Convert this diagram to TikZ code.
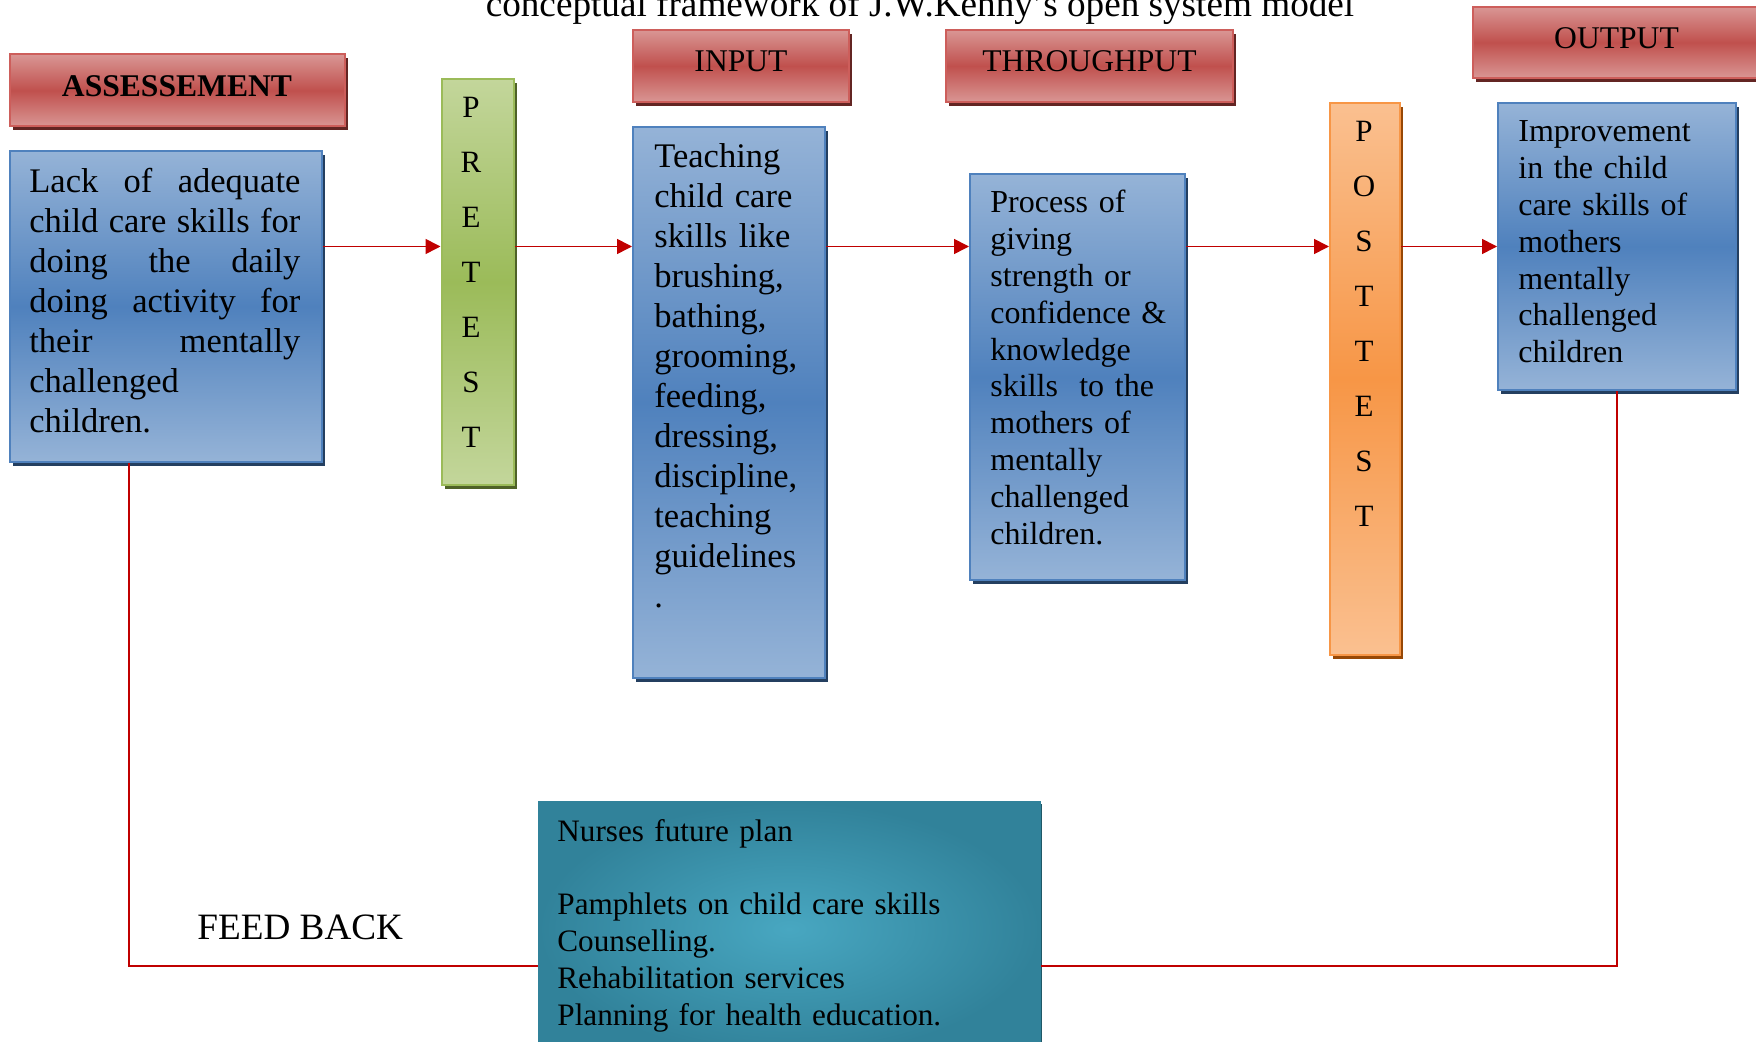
\documentclass[tikz,border=0pt]{standalone}
\usepackage{fontspec}
\setmainfont{Liberation Serif}
\usetikzlibrary{shadows,arrows.meta}
\definecolor{blueL}{HTML}{95B3D7}
\definecolor{blueM}{HTML}{4F81BD}
\definecolor{blueS}{HTML}{243F60}
\definecolor{blueB}{HTML}{4F81BD}
\definecolor{redL}{HTML}{D99694}
\definecolor{redM}{HTML}{C0504D}
\definecolor{redS}{HTML}{632523}
\definecolor{redB}{HTML}{CD5E5B}
\definecolor{grnL}{HTML}{C3D69B}
\definecolor{grnM}{HTML}{9BBB59}
\definecolor{grnS}{HTML}{4F6228}
\definecolor{orgL}{HTML}{FAC090}
\definecolor{orgM}{HTML}{F79646}
\definecolor{orgS}{HTML}{974806}
\definecolor{tealI}{HTML}{48A7C1}
\definecolor{tealO}{HTML}{31829A}
\definecolor{tealS}{HTML}{205867}
\definecolor{arrred}{HTML}{C00000}
\newcommand\fntBig{\fontsize{17.25}{20}\selectfont}
\newcommand\fntSmall{\fontsize{16}{18.4}\selectfont}
\newcommand\fntTeal{\fontsize{15.6}{18.4}\selectfont}
\newcommand\fntHdr{\fontsize{15.8}{19}\selectfont}
\newcommand\fntTitle{\fontsize{18.6}{22}\selectfont}
\newcommand\fntLet{\fontsize{15.5}{27.5}\selectfont}
\newcommand\jline[1]{\leavevmode\hbox to 135.5pt{#1}}
\begin{document}
\begin{tikzpicture}[x=0.5pt,y=-0.5pt,
  box/.style={rectangle, inner sep=0pt, line width=1pt, anchor=center},
  hdr/.style={box, draw=redB, top color=redL, bottom color=redL, middle color=redM,
     drop shadow={shadow xshift=1.5pt, shadow yshift=-2pt, opacity=1, fill=redS},
     font=\fntHdr, text height=10pt, text depth=4pt},
  bluebox/.style={box, draw=blueB, top color=blueL, bottom color=blueL, middle color=blueM,
     drop shadow={shadow xshift=1.5pt, shadow yshift=-2.2pt, opacity=1, fill=blueS}},
  grnbox/.style={box, draw=grnM, top color=grnL, bottom color=grnL, middle color=grnM,
     drop shadow={shadow xshift=1.5pt, shadow yshift=-2.2pt, opacity=1, fill=grnS}},
  orgbox/.style={box, draw=orgM, top color=orgL, bottom color=orgL, middle color=orgM,
     drop shadow={shadow xshift=1.5pt, shadow yshift=-2.2pt, opacity=1, fill=orgS}},
  tealbox/.style={box, draw=tealO, inner color=tealI, outer color=tealO,
     drop shadow={shadow xshift=1.2pt, shadow yshift=-1pt, opacity=1, fill=tealS}},
  txt/.style={anchor=base west, inner sep=0pt, align=left},
  letters/.style={anchor=base, inner sep=0pt, text width=20pt, align=center, font=\fntLet},
  arr/.style={draw=arrred, line width=0.8pt, -{Triangle[length=7.5pt,width=7.5pt]}},
  fb/.style={draw=arrred, line width=0.9pt}
]
\fill[white] (0,0) rectangle (1756,1042);
\useasboundingbox (0,0) rectangle (1756,1042);

% title
\node[anchor=base, inner sep=0pt, font=\fntTitle] (title) at (920,16.5)
  {conceptual framework of J.W.Kenny's open system model};

% header boxes
\node[hdr, minimum width=167.5pt, minimum height=36pt] (hA) at (177,90.5) {\bfseries ASSESSEMENT};
\node[hdr, minimum width=108pt, minimum height=36pt] (hI) at (741,66) {INPUT};
\node[hdr, minimum width=143.5pt, minimum height=36pt] (hT) at (1089.5,66) {THROUGHPUT};
\node[hdr, minimum width=143.5pt, minimum height=35.5pt] (hO) at (1616.5,42.5) {OUTPUT};

% main boxes
\node[bluebox, minimum width=156pt, minimum height=155.5pt] (b1) at (165.5,306.5) {};
\node[grnbox, minimum width=36pt, minimum height=203pt] (pre) at (477.5,282) {};
\node[bluebox, minimum width=96pt, minimum height=275.5pt] (bI) at (729,402.5) {};
\node[bluebox, minimum width=107.5pt, minimum height=203pt] (bT) at (1077.5,377) {};
\node[orgbox, minimum width=35pt, minimum height=275.75pt] (post) at (1365,378.75) {};
\node[bluebox, minimum width=119pt, minimum height=143.5pt] (bO) at (1617,246.5) {};
\node[tealbox, minimum width=250.75pt, minimum height=127pt] (teal) at (789.25,929) {};

% texts
\node[txt, text width=135.5pt, font=\fntBig] (t1) at (29,193)
  {\jline{Lack\hfill of\hfill adequate}\\
   \jline{child\hfill care\hfill skills\hfill for}\\
   \jline{doing\hfill the\hfill daily}\\
   \jline{doing\hfill activity\hfill for}\\
   \jline{their\hfill mentally}\\
   challenged\\
   children.};
\node[txt, text width=85pt, font=\fntBig] (tI) at (654,168)
  {Teaching\\child care\\skills like\\brushing,\\bathing,\\grooming,\\feeding,\\dressing,\\discipline,\\teaching\\guidelines\\.};
\node[txt, text width=100pt, font=\fntSmall] (tT) at (990,213)
  {Process of\\giving\\strength or\\confidence \&\\knowledge\\skills~ to the\\mothers of\\mentally\\challenged\\children.};
\node[txt, text width=110pt, font=\fntSmall] (tO) at (1518,142)
  {Improvement\\in the child\\care skills of\\mothers\\mentally\\challenged\\children};
\node[txt, text width=240pt, font=\fntTeal] (tN) at (557,841)
  {Nurses future plan\\[18.4pt]Pamphlets on child care skills\\Counselling.\\Rehabilitation services\\Planning for health education.};
\node[letters] (preT) at (471,118) {P\\R\\E\\T\\E\\S\\T};
\node[letters] (postT) at (1364,142) {P\\O\\S\\T\\T\\E\\S\\T};
\node[anchor=base west, inner sep=0pt, font=\fntTitle] (fbk) at (197,939) {FEED BACK};

% arrows
\draw[arr] (b1.east |- bO.center) -- (pre.west |- bO.center);
\draw[arr] (pre.east |- bO.center) -- (bI.west |- bO.center);
\draw[arr] (bI.east |- bO.center) -- (bT.west |- bO.center);
\draw[arr] (bT.east |- bO.center) -- (post.west |- bO.center);
\draw[arr] (post.east |- bO.center) -- (bO.west);

% feedback loop
\coordinate (fbL) at (129,966);
\coordinate (fbR) at (1617,966);
\draw[fb] (b1.south -| fbL) -- (fbL) -- (teal.west |- fbL);
\draw[fb] (teal.east |- fbR) -- (fbR) -- (bO.south);
\end{tikzpicture}
\end{document}
